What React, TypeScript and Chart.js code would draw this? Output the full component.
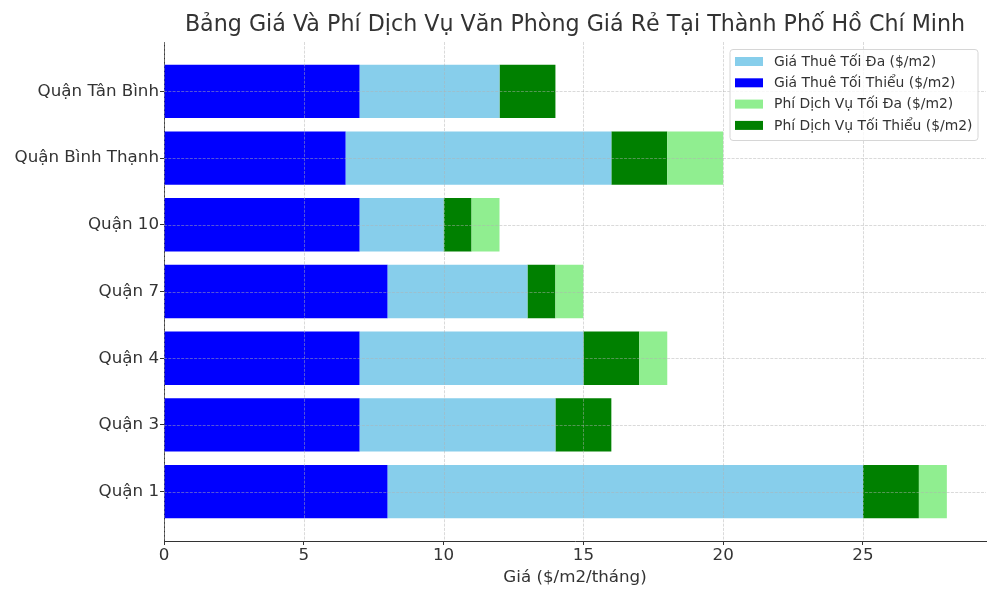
import React, { useEffect, useRef } from 'react';
import { Chart, registerables } from 'chart.js';

Chart.register(...registerables);

const categories = ['Quận 1', 'Quận 3', 'Quận 4', 'Quận 7', 'Quận 10', 'Quận Bình Thạnh', 'Quận Tân Bình'];
const minRent = [8, 7, 7, 8, 7, 6.5, 7];
const maxRent = [25, 14, 15, 13, 10, 16, 12];
const minFee = [2, 2, 2, 1, 1, 2, 2];
const maxFee = [3, 2, 3, 2, 2, 4, 2];
const xTicks = [0, 5, 10, 15, 20, 25];
const seriesLabels = [
  'Giá Thuê Tối Đa ($/m2)',
  'Giá Thuê Tối Thiểu ($/m2)',
  'Phí Dịch Vụ Tối Đa ($/m2)',
  'Phí Dịch Vụ Tối Thiểu ($/m2)',
];
const seriesColors = ['#87CEEB', '#0000FF', '#90EE90', '#008000'];
const titleText = 'Bảng Giá Và Phí Dịch Vụ Văn Phòng Giá Rẻ Tại Thành Phố Hồ Chí Minh';
const xAxisTitle = 'Giá ($/m2/tháng)';

const FONT = '"DejaVu Sans", sans-serif';
const TEXT = '#333333';

const overlayPlugin = {
  id: 'overlay',
  afterDatasetsDraw(chart: any) {
    const { ctx, chartArea, scales } = chart;
    ctx.save();
    ctx.strokeStyle = 'rgba(176,176,176,0.6)';
    ctx.lineWidth = 0.8;
    ctx.setLineDash([3, 1.3]);
    xTicks.forEach((v) => {
      const x = Math.round(scales.x.getPixelForValue(v)) + 0.5;
      ctx.beginPath();
      ctx.moveTo(x, chartArea.top);
      ctx.lineTo(x, chartArea.bottom);
      ctx.stroke();
    });
    categories.forEach((_, i) => {
      const y = Math.round(scales.y.getPixelForValue(i)) + 0.5;
      ctx.beginPath();
      ctx.moveTo(chartArea.left, y);
      ctx.lineTo(chartArea.right, y);
      ctx.stroke();
    });
    ctx.restore();
  },
  afterDraw(chart: any) {
    const { ctx, chartArea } = chart;
    ctx.save();
    // title
    ctx.fillStyle = TEXT;
    ctx.font = `22.2px ${FONT}`;
    ctx.textAlign = 'center';
    ctx.textBaseline = 'middle';
    ctx.fillText(titleText, (chartArea.left + chartArea.right) / 2, 25.5);

    // legend
    const bx = 730, by = 49.5, bw = 248, bh = 91, r = 3;
    ctx.beginPath();
    ctx.moveTo(bx + r, by);
    ctx.lineTo(bx + bw - r, by);
    ctx.quadraticCurveTo(bx + bw, by, bx + bw, by + r);
    ctx.lineTo(bx + bw, by + bh - r);
    ctx.quadraticCurveTo(bx + bw, by + bh, bx + bw - r, by + bh);
    ctx.lineTo(bx + r, by + bh);
    ctx.quadraticCurveTo(bx, by + bh, bx, by + bh - r);
    ctx.lineTo(bx, by + r);
    ctx.quadraticCurveTo(bx, by, bx + r, by);
    ctx.closePath();
    ctx.fillStyle = 'rgba(255,255,255,0.8)';
    ctx.fill();
    ctx.strokeStyle = '#d6d6d6';
    ctx.lineWidth = 1;
    ctx.stroke();

    ctx.font = `13.9px ${FONT}`;
    ctx.textAlign = 'left';
    ctx.textBaseline = 'middle';
    chart.data.datasets.forEach((ds: any, i: number) => {
      const cy = 61.5 + i * 21.3;
      ctx.fillStyle = ds.backgroundColor;
      ctx.fillRect(735, cy - 4.5, 28, 9);
      ctx.fillStyle = TEXT;
      ctx.fillText(ds.label, 774, cy + 0.5);
    });
    ctx.restore();
  },
};

export default function App() {
  const canvasRef = useRef<HTMLCanvasElement | null>(null);

  useEffect(() => {
    if (!canvasRef.current) return;
    const idx = categories.map((_, i) => i);
    const datasets = [
      { label: seriesLabels[0], backgroundColor: seriesColors[0], data: idx.map((i) => ({ y: i, x: [minRent[i], maxRent[i]] })) },
      { label: seriesLabels[1], backgroundColor: seriesColors[1], data: idx.map((i) => ({ y: i, x: [0, minRent[i]] })) },
      { label: seriesLabels[2], backgroundColor: seriesColors[2], data: idx.map((i) => ({ y: i, x: [maxRent[i] + minFee[i], maxRent[i] + maxFee[i]] })) },
      { label: seriesLabels[3], backgroundColor: seriesColors[3], data: idx.map((i) => ({ y: i, x: [maxRent[i], maxRent[i] + minFee[i]] })) },
    ].map((d) => ({
      ...d,
      borderWidth: 0,
      grouped: false,
      categoryPercentage: 1,
      barPercentage: 0.8,
    }));

    const chart = new Chart(canvasRef.current, {
      type: 'bar',
      data: { datasets: datasets as any },
      plugins: [overlayPlugin],
      options: {
        animation: false,
        responsive: true,
        maintainAspectRatio: false,
        indexAxis: 'y',
        layout: { padding: { top: 42, right: 14, bottom: 0, left: 0 } },
        plugins: {
          legend: { display: false },
          title: { display: false },
          tooltip: { enabled: false },
        },
        scales: {
          x: {
            type: 'linear',
            min: 0,
            max: 29.4,
            offset: false,
            afterBuildTicks: (s: any) => {
              s.ticks = xTicks.map((v) => ({ value: v }));
            },
            afterFit: (s: any) => {
              s.height = 59;
            },
            ticks: {
              font: { family: FONT, size: 16.7 },
              color: TEXT,
              padding: 1,
              maxRotation: 0,
            },
            grid: { offset: false, drawOnChartArea: false, tickLength: 4, color: TEXT, tickColor: TEXT },
            border: { display: true, color: TEXT, width: 1 },
            title: {
              display: true,
              text: xAxisTitle,
              font: { family: FONT, size: 16.7 },
              color: TEXT,
              padding: { top: 0, bottom: 12 },
            },
          },
          y: {
            type: 'linear',
            min: -0.74,
            max: 6.74,
            offset: false,
            afterBuildTicks: (s: any) => {
              s.ticks = categories.map((_, i) => ({ value: i }));
            },
            afterFit: (s: any) => {
              s.width = 164;
            },
            ticks: {
              font: { family: FONT, size: 16.7 },
              color: TEXT,
              padding: 1,
              callback: (v: any) => categories[Math.round(Number(v))] ?? '',
            },
            grid: { offset: false, drawOnChartArea: false, tickLength: 4, color: TEXT, tickColor: TEXT },
            border: { display: true, color: TEXT, width: 1 },
          },
        },
      } as any,
    });
    return () => chart.destroy();
  }, []);

  return (
    <div style={{ position: 'fixed', left: 0, top: 0, width: 1000, height: 600, background: '#fff' }}>
      <canvas ref={canvasRef} />
    </div>
  );
}
